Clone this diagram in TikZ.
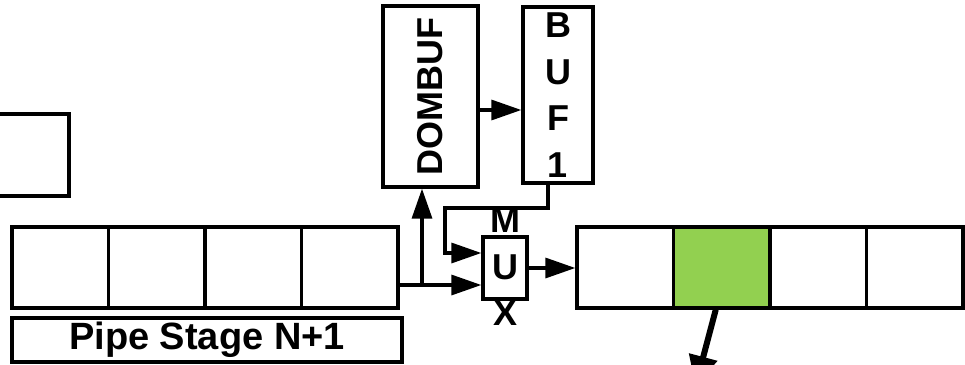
\documentclass[tikz,border=0pt]{standalone}
\usepackage{fontspec}
\setmainfont{Liberation Sans}
\usepackage{tikz}
\usetikzlibrary{arrows.meta, positioning, calc}
\definecolor{cellgreen}{RGB}{146, 208, 80}

\begin{document}
\begin{tikzpicture}[x=1pt, y=-1pt, line width=3.3pt,
    cell/.style={draw, minimum width=96.5pt, minimum height=81pt, inner sep=0pt},
    blk/.style={draw, inner sep=0pt, font=\fontsize{36}{46.5}\selectfont\bfseries, align=center},
    arr/.style={-{Triangle[length=30pt, width=20pt]}}]
    \clip (0,0) rectangle (965,364);
    \fill[white] (0,0) rectangle (965,364);

    % stadio precedente (tagliato a sinistra)
    \node[blk, minimum width=99pt, minimum height=82pt] (prev) at (19.5,155) {};

    % registro stadio N+1
    \foreach \i in {1,...,4}
        \node[cell] (a\i) at ({12+96.5*(\i-0.5)}, 267.5) {};
    \node[blk, minimum width=390pt, minimum height=44pt, font=\fontsize{38}{40}\selectfont\bfseries] (stage) at (207,340) {Pipe Stage N+1};

    % registro di uscita
    \foreach \i in {1,...,4}
        \node[cell] (b\i) at ({577+96.5*(\i-0.5)}, 267.5) {};
    \node[cell, fill=cellgreen] at (b2) {};

    % buffer e mux
    \node[blk, minimum width=95pt, minimum height=181pt] (dombuf) at (430.5,96.5) {\rotatebox{90}{DOMBUF}};
    \node[blk, minimum width=70pt, minimum height=176pt] (buf) at (558,95) {B\\U\\F\\1};
    \node[draw, minimum width=44pt, minimum height=62pt, inner sep=0pt] (mux) at (505,268) {};
    \node[blk, draw=none] (muxtxt) at (505,267) {M\\U\\X};

    \coordinate (split) at (422,285);
    \coordinate (fb) at (445,208);
    \coordinate (out) at (695.5,386);

    \draw (a4.east |- split) -- (split);
    \draw[arr] (split) -- (mux.west |- split);
    \draw[arr] (split) -- (split |- dombuf.south);
    \draw[arr] ([yshift=-13.5pt]dombuf.east) -- ([yshift=-13.5pt]dombuf.east -| buf.west);
    \draw[arr] ([xshift=-10pt]buf.south) |- (fb) |- ([yshift=15pt]mux.west);
    \draw[arr] (mux.east) -- (mux.east -| b1.west);
    \draw[line width=6pt, -{Triangle[length=30pt, width=28pt]}] ([xshift=-6pt]b2.south) -- (out);
\end{tikzpicture}
\end{document}
